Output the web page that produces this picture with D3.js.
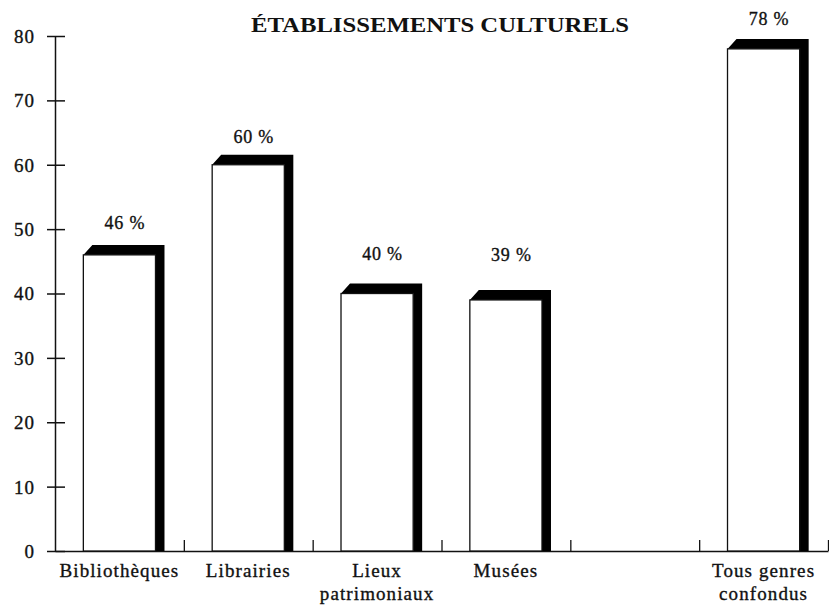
<!DOCTYPE html>
<html>
<head>
<meta charset="utf-8">
<script src="https://cdn.jsdelivr.net/npm/d3@7"></script>
<style>
  html, body { margin: 0; padding: 0; background: #fff; }
  svg { display: block; }
  text { font-family: "Liberation Serif", "DejaVu Serif", serif; fill: #111; }
  .ink { stroke: #111; stroke-width: 0.35px; }
</style>
</head>
<body>
<svg id="chart" width="829" height="607"></svg>
<script>
// ---- data ----
const title = "ÉTABLISSEMENTS CULTURELS";
const categories = ["Bibliothèques", "Librairies", "Lieux patrimoniaux", "Musées", "", "Tous genres confondus"];
const categoryLines = [["Bibliothèques"], ["Librairies"], ["Lieux", "patrimoniaux"], ["Musées"], [], ["Tous genres", "confondus"]];
const values = [46, 60, 40, 39, null, 78];
const valueLabels = ["46 %", "60 %", "40 %", "39 %", "", "78 %"];
const yTicks = [0, 10, 20, 30, 40, 50, 60, 70, 80];

// ---- layout ----
const W = 829, H = 607;
const plot = { left: 55, right: 828, top: 36, bottom: 551 };
const depth = { dx: 9, dy: 10 };      // thickness of the black relief
const barRatio = 0.56;                // face width as share of a band
const labelGap = [16, 12, 24, 29, 0, 14]; // space between relief top and value label

const svg = d3.select("#chart");

const x = d3.scaleBand()
  .domain(d3.range(categories.length))
  .range([plot.left, plot.right])
  .padding(0);

const xEdge = d3.scaleLinear()
  .domain([0, categories.length])
  .range([plot.left, plot.right]);

const y = d3.scaleLinear()
  .domain([0, 80])
  .range([plot.bottom, plot.top]);

const faceW = x.bandwidth() * barRatio;

// title
svg.append("text")
  .attr("x", 440).attr("y", 32)
  .attr("text-anchor", "middle")
  .attr("font-size", 20)
  .attr("font-weight", "bold")
  .attr("textLength", 378)
  .attr("lengthAdjust", "spacingAndGlyphs")
  .text(title);

// y axis
const yAxis = svg.append("g")
  .attr("transform", `translate(${plot.left},0)`)
  .call(d3.axisLeft(y).tickValues(yTicks).tickSize(8).tickSizeOuter(0).tickPadding(12));
yAxis.select(".domain").attr("stroke", "#111").attr("stroke-width", 1.5);
yAxis.selectAll(".tick line").attr("stroke", "#111").attr("stroke-width", 1.5).attr("x2", 10).attr("x1", -8);
yAxis.selectAll(".tick text")
  .attr("class", "ink")
  .attr("font-family", "Liberation Serif, serif")
  .attr("font-size", 19)
  .attr("letter-spacing", 1)
  .attr("fill", "#111")
  .attr("dy", "0.34em");

// x axis baseline with boundary ticks
const xAxis = svg.append("g")
  .attr("transform", `translate(0,${plot.bottom})`)
  .call(d3.axisBottom(xEdge)
    .tickValues(d3.range(1, categories.length + 1))
    .tickSize(-11).tickSizeOuter(0).tickFormat(""));
xAxis.select(".domain").attr("stroke", "#111").attr("stroke-width", 1.5);
xAxis.selectAll(".tick line").attr("stroke", "#111").attr("stroke-width", 1.3);

// bars
const bars = svg.append("g").selectAll("g.bar")
  .data(values.map((v, i) => ({ v, i })).filter(d => d.v != null))
  .join("g").attr("class", "bar");

bars.append("path")
  .attr("fill", "#000")
  .attr("d", d => {
    const x0 = x(d.i) + (x.bandwidth() - faceW) / 2;
    const x1 = x0 + faceW;
    const yv = y(d.v), y0 = y(0);
    return d3.line()([
      [x0, yv], [x0 + depth.dx, yv - depth.dy], [x1 + depth.dx, yv - depth.dy],
      [x1 + depth.dx, y0], [x1, y0], [x1, yv]
    ]) + "Z";
  });

bars.append("rect")
  .attr("x", d => x(d.i) + (x.bandwidth() - faceW) / 2)
  .attr("y", d => y(d.v))
  .attr("width", faceW)
  .attr("height", d => y(0) - y(d.v))
  .attr("fill", "#fff")
  .attr("stroke", "#111")
  .attr("stroke-width", 1.3);

bars.append("text")
  .attr("class", "ink")
  .attr("x", d => x(d.i) + x.bandwidth() / 2 + depth.dx / 2 + 1)
  .attr("y", d => y(d.v) - depth.dy - labelGap[d.i])
  .attr("text-anchor", "middle")
  .attr("font-size", 18)
  .attr("letter-spacing", 0.8)
  .text(d => valueLabels[d.i]);

// category labels
const cats = svg.append("g").selectAll("text.cat")
  .data(categoryLines.map((lines, i) => ({ lines, i })))
  .join("text").attr("class", "cat ink")
  .attr("text-anchor", "middle")
  .attr("font-size", 19)
  .attr("letter-spacing", 1.1);

cats.selectAll("tspan")
  .data(d => d.lines.map((t, k) => ({ t, k, i: d.i })))
  .join("tspan")
  .attr("x", d => x(d.i) + x.bandwidth() / 2)
  .attr("y", d => plot.bottom + 26 + d.k * 23)
  .text(d => d.t);
</script>
</body>
</html>
